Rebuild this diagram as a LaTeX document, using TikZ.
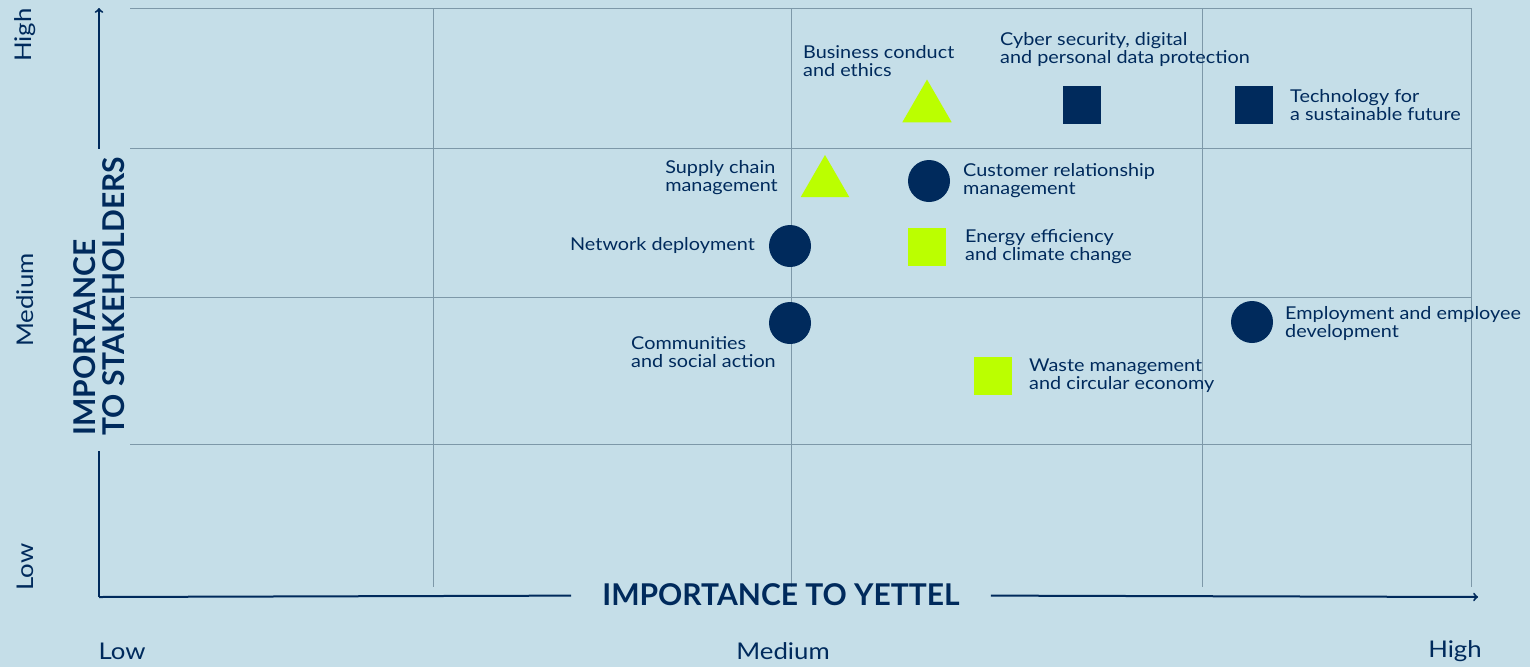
\documentclass[tikz,border=0pt]{standalone}
\usepackage{fontspec}
\setmainfont{Lato}
\newfontfamily\widefont[FakeStretch=1.12]{Lato}
\usetikzlibrary{shapes.geometric}

\definecolor{bgblue}{HTML}{C5DEE8}
\definecolor{navy}{HTML}{002A5C}
\definecolor{lime}{HTML}{BBFF00}
\definecolor{gridgray}{HTML}{7D98A8}

\tikzset{
  gridline/.style={color=gridgray,line width=0.9pt},
  axisline/.style={color=navy,line width=2pt},
  topic/.style={font=\widefont\fontsize{17.7}{18}\selectfont,text=navy,align=left,inner sep=0pt},
  level/.style={font=\widefont\fontsize{23}{25}\selectfont,text=navy,inner sep=0pt},
  axistitle/.style={font=\fontsize{30}{28.5}\selectfont\bfseries,text=navy,align=left},
  dot/.style={circle,fill=#1,minimum size=42pt,inner sep=0pt},
  box/.style={rectangle,fill=#1,minimum size=38pt,inner sep=0pt},
  tri/.style={regular polygon,regular polygon sides=3,fill=#1,inner sep=0pt}
}

\begin{document}
\begin{tikzpicture}[x=1pt,y=-1pt]
    \fill[bgblue] (0,0) rectangle (1530,667); % Background
    \useasboundingbox (0,0) rectangle (1530,667);

    % Grid
    \draw[gridline] (130,8) -- (1471,8);
    \draw[gridline] (130,148) -- (1471,148);
    \draw[gridline] (130,297) -- (1471,297);
    \draw[gridline] (130,444) -- (1471,444);
    \draw[gridline] (433,8) -- (433,587);
    \draw[gridline] (791,8) -- (791,587);
    \draw[gridline] (1202,8) -- (1202,587);
    \draw[gridline] (1471,8) -- (1471,587);

    % Axes with their titles
    \coordinate (origin) at (99,597);
    \coordinate (ytop) at (99,8);
    \coordinate (xend) at (1478,597);
    \node[axistitle,rotate=90,inner xsep=16pt,inner ysep=0pt] (ytitle) at (99,296) {IMPORTANCE\\TO STAKEHOLDERS};
    \node[axistitle,inner xsep=31pt,inner ysep=0pt] (xtitle) at (781,595) {IMPORTANCE TO YETTEL};
    \draw[axisline] (origin) -- (ytitle);
    \draw[axisline,->,shorten <=-8pt] (ytitle) -- (ytop);
    \draw[axisline] (origin) -- (xtitle);
    \draw[axisline,->] (xtitle) -- (xend);

    % Levels
    \node[level,rotate=90] (yhigh) at (25,35) {High};
    \node[level,rotate=90] (ymed) at (25,300) {Medium};
    \node[level,rotate=90] (ylow) at (25,567) {Low};
    \node[level] (xlow) at (122,651) {Low};
    \node[level] (xmed) at (783,651) {Medium};
    \node[level] (xhigh) at (1455,651) {High};

    % Topics
    \node[tri=lime,minimum size=57pt] (ethics) at (927,108) {};
    \node[topic,anchor=west] (ethicslab) at (803,61) {Business conduct\\and ethics};

    \node[box=navy] (cyber) at (1082,105) {};
    \node[topic,anchor=west] (cyberlab) at (1000,49) {Cyber security, digital\\and personal data protection};

    \node[box=navy] (tech) at (1254,105) {};
    \node[topic,anchor=west] (techlab) at (1290,105) {Technology for\\a sustainable future};

    \node[tri=lime,minimum size=56pt] (supply) at (825,183) {};
    \node[topic,anchor=east] (supplylab) at (778,178) {Supply chain\\management};

    \node[dot=navy] (crm) at (929,181) {};
    \node[topic,anchor=west] (crmlab) at (963,181) {Customer relationship\\management};

    \node[dot=navy] (network) at (790,246) {};
    \node[topic,anchor=east] (networklab) at (755,245) {Network deployment};

    \node[box=lime] (energy) at (927,247) {};
    \node[topic,anchor=west] (energylab) at (965,247) {Energy efficiency\\and climate change};

    \node[dot=navy] (community) at (790,323) {};
    \node[topic,anchor=west] (communitylab) at (631,352) {Communities\\and social action};

    \node[dot=navy] (employ) at (1252,322) {};
    \node[topic,anchor=west] (employlab) at (1285,323) {Employment and employee\\development};

    \node[box=lime] (waste) at (993,376) {};
    \node[topic,anchor=west] (wastelab) at (1029,376) {Waste management\\and circular economy};
\end{tikzpicture}
\end{document}
